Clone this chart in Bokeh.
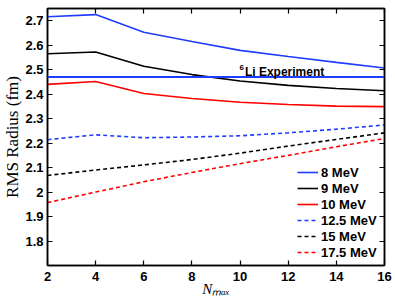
from bokeh.plotting import figure
from bokeh.models import (Range1d, LinearAxis, FixedTicker, CustomJSTickFormatter,
                          Legend, LegendItem, Label, Span)
from bokeh.embed import file_html
from bokeh.resources import INLINE

# ---- data ----
nmax = [2, 4, 6, 8, 10, 12, 14, 16]
r_8 = [2.716, 2.725, 2.653, 2.615, 2.579, 2.554, 2.530, 2.507]
r_9 = [2.565, 2.572, 2.514, 2.480, 2.454, 2.436, 2.423, 2.414]
r_10 = [2.440, 2.452, 2.403, 2.382, 2.367, 2.358, 2.351, 2.349]
r_12_5 = [2.214, 2.234, 2.222, 2.225, 2.230, 2.242, 2.257, 2.274]
r_15 = [2.068, 2.090, 2.111, 2.133, 2.159, 2.188, 2.215, 2.242]
r_17_5 = [1.957, 2.000, 2.042, 2.080, 2.116, 2.150, 2.185, 2.219]
experiment = 2.470
series_labels = ["8 MeV", "9 MeV", "10 MeV", "12.5 MeV", "15 MeV", "17.5 MeV"]
x_ticks = [2, 4, 6, 8, 10, 12, 14, 16]
y_ticks = [1.8, 1.9, 2.0, 2.1, 2.2, 2.3, 2.4, 2.5, 2.6, 2.7]

BLUE = "#1f3dff"
RED = "#ff0000"
BLACK = "#000000"

p = figure(width=395, height=299, x_range=Range1d(2, 16), y_range=Range1d(1.7, 2.75),
           output_backend="svg", toolbar_location=None,
           min_border_left=41, min_border_right=11, min_border_top=8, min_border_bottom=34)
p.xgrid.visible = False
p.ygrid.visible = False
p.outline_line_color = "black"
p.outline_line_width = 1.5

tick_font = "Liberation Sans"
for ax in p.xaxis + p.yaxis:
    ax.major_tick_in = 5
    ax.major_tick_out = 0
    ax.minor_tick_in = 0
    ax.minor_tick_out = 0
    ax.axis_line_width = 1.5
    ax.major_tick_line_width = 1.2
    ax.major_label_text_font = tick_font
    ax.major_label_text_font_style = "bold"
    ax.major_label_text_font_size = "13px"
    ax.major_label_text_color = "black"
    ax.axis_label_text_font = "Liberation Serif"
    ax.axis_label_text_color = "black"
p.xaxis.ticker = FixedTicker(ticks=x_ticks)
p.yaxis.ticker = FixedTicker(ticks=y_ticks)
p.xaxis.major_label_standoff = 6
p.yaxis.major_label_standoff = 4
p.yaxis.formatter = CustomJSTickFormatter(code="return String(Math.round(tick*10)/10)")

p.yaxis.axis_label = "RMS Radius (fm)"
p.yaxis.axis_label_text_font_size = "17px"
p.yaxis.axis_label_text_font_style = "normal"
p.yaxis.axis_label_standoff = 0

p.xaxis.axis_label = "N\u2098\u2090\u2093"
p.xaxis.axis_label_text_font_size = "15px"
p.xaxis.axis_label_text_font_style = "italic"
p.xaxis.axis_label_standoff = -3

# mirrored axes (ticks only, no labels)
blank = CustomJSTickFormatter(code="return ''")
top = LinearAxis(ticker=FixedTicker(ticks=x_ticks), formatter=blank,
                 major_label_text_font_size="0px", major_label_text_alpha=0,
                 major_tick_in=5, major_tick_out=0, minor_tick_in=0, minor_tick_out=0,
                 major_label_standoff=0, axis_line_width=1.5, major_tick_line_width=1.2)
right = LinearAxis(ticker=FixedTicker(ticks=y_ticks), formatter=blank,
                   major_label_text_font_size="0px", major_label_text_alpha=0,
                   major_tick_in=5, major_tick_out=0, minor_tick_in=0, minor_tick_out=0,
                   major_label_standoff=0, axis_line_width=1.5, major_tick_line_width=1.2)
p.add_layout(top, "above")
p.add_layout(right, "right")

dash = "4 3"
r1 = p.line(nmax, r_8, line_color=BLUE, line_width=1.6)
r2 = p.line(nmax, r_9, line_color=BLACK, line_width=1.6)
r3 = p.line(nmax, r_10, line_color=RED, line_width=1.6)
r4 = p.line(nmax, r_12_5, line_color=BLUE, line_width=1.6, line_dash=dash)
r5 = p.line(nmax, r_15, line_color=BLACK, line_width=1.6, line_dash=dash)
r6 = p.line(nmax, r_17_5, line_color=RED, line_width=1.6, line_dash=dash)

p.add_layout(Span(location=experiment, dimension="width", line_color=BLUE, line_width=2))

# experiment label
p.add_layout(Label(x=9.98, y=2.51, text="6", text_font=tick_font, text_font_style="bold",
                   text_font_size="8px", text_color="black", text_baseline="alphabetic"))
p.add_layout(Label(x=10.2, y=2.491, text="Li Experiment", text_font=tick_font,
                   text_font_style="bold", text_font_size="12px", text_color="black",
                   text_baseline="alphabetic"))

legend = Legend(items=[LegendItem(label=l, renderers=[r])
                       for l, r in zip(series_labels, [r1, r2, r3, r4, r5, r6])],
                location=(250, 5), background_fill_alpha=0, border_line_alpha=0,
                glyph_width=21, glyph_height=16, label_height=16, label_standoff=3,
                padding=0, margin=0, spacing=0,
                label_text_font=tick_font, label_text_font_style="bold",
                label_text_font_size="13px", label_text_color="black")
p.add_layout(legend)

open("out.html", "w").write(file_html(p, INLINE))
